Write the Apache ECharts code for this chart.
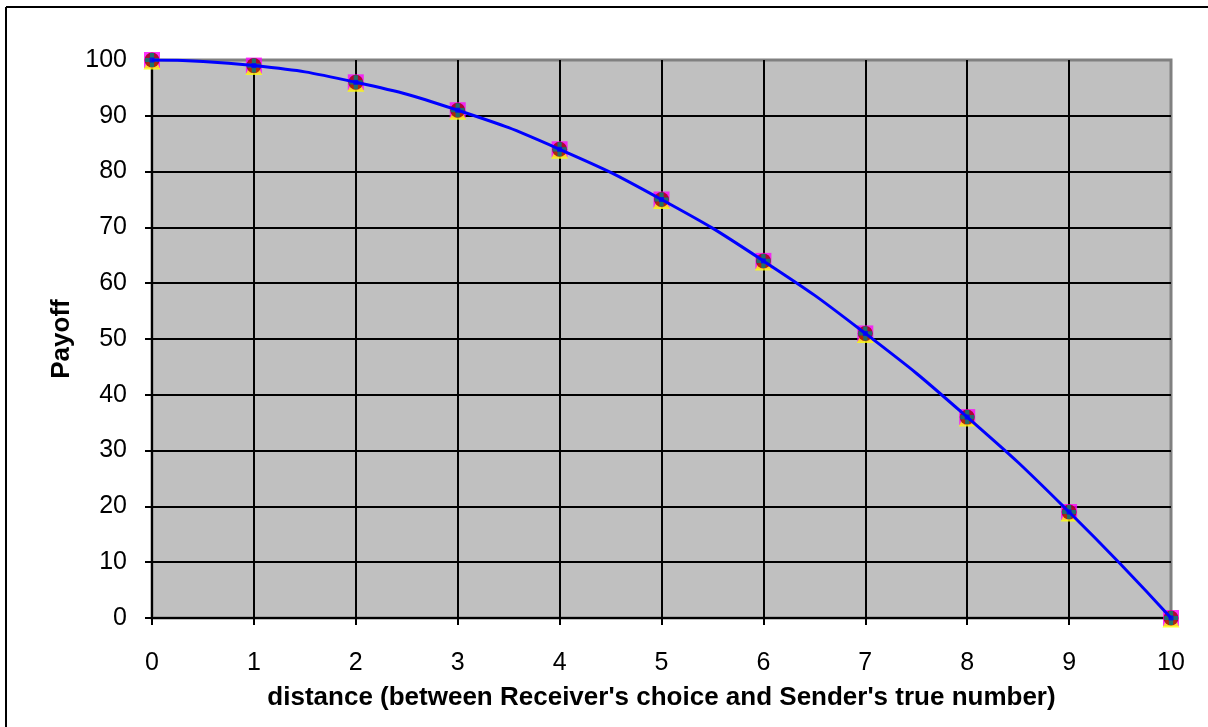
<!DOCTYPE html>
<html><head><meta charset="utf-8">
<script src="https://cdn.jsdelivr.net/npm/echarts@6/dist/echarts.min.js"></script>
<style>html,body{margin:0;padding:0;background:#fff}#c{width:1208px;height:727px}</style>
</head><body><div id="c"></div>
<script>
const distances = [0,1,2,3,4,5,6,7,8,9,10];
const payoff = [100,99,96,91,84,75,64,51,36,19,0];
const xTitle = "distance (between Receiver's choice and Sender's true number)";
const yTitle = "Payoff";

const pts = distances.map((d,i)=>[d, payoff[i]]);
const cross = 'path://M0,3.5L10,3.5L10,6.5L0,6.5Z M3.5,0L6.5,0L6.5,10L3.5,10Z';
const font = 'Arial, "Liberation Sans", sans-serif';

const chart = echarts.init(document.getElementById('c'), null, {renderer:'canvas'});
chart.setOption({
  animation:false,
  backgroundColor:'#fff',
  grid:{left:152,right:37,top:60,bottom:109,show:true,backgroundColor:'#c0c0c0',borderColor:'#808080',borderWidth:3},
  xAxis:{type:'value',min:0,max:10,interval:1,
    name:xTitle,nameLocation:'middle',nameGap:67,
    nameTextStyle:{fontFamily:font,fontSize:26,fontWeight:'bold',color:'#000'},
    axisLine:{show:true,onZero:false,lineStyle:{color:'#000',width:2}},
    axisTick:{show:true,length:7,lineStyle:{color:'#000',width:2}},
    axisLabel:{fontFamily:font,fontSize:25,color:'#000',margin:33},
    splitLine:{show:true,showMaxLine:false,lineStyle:{color:'#000',width:2}}},
  yAxis:{type:'value',min:0,max:100,interval:10,
    name:yTitle,nameLocation:'middle',nameGap:77,
    nameTextStyle:{fontFamily:font,fontSize:26,fontWeight:'bold',color:'#000'},
    axisLine:{show:true,lineStyle:{color:'#000',width:2}},
    axisTick:{show:true,length:7,lineStyle:{color:'#000',width:2}},
    axisLabel:{fontFamily:font,fontSize:25,color:'#000',margin:25},
    splitLine:{show:true,showMaxLine:false,lineStyle:{color:'#000',width:2}}},
  graphic:[
    {type:'line',shape:{x1:6,y1:7,x2:1208,y2:7},style:{stroke:'#000',lineWidth:2},z:100},
    {type:'line',shape:{x1:6,y1:7,x2:6,y2:727},style:{stroke:'#000',lineWidth:2},z:100}
  ],
  series:[
    {type:'scatter',data:pts,symbol:'rect',symbolSize:16,itemStyle:{color:'#ff00ff'},z:3},
    {type:'scatter',data:pts,symbol:'triangle',symbolSize:17,symbolOffset:[0,1],itemStyle:{color:'#ffff00'},z:4},
    {type:'scatter',data:pts,symbol:'circle',symbolSize:15,itemStyle:{color:'#990000'},z:5},
    {type:'scatter',data:pts,symbol:cross,symbolSize:14,itemStyle:{color:'#008080'},z:6},
    {type:'line',data:pts,smooth:true,showSymbol:false,lineStyle:{color:'#0000ff',width:3},z:7},
    {type:'scatter',data:pts,symbol:'rect',symbolSize:5,itemStyle:{color:'#0000ff'},z:8}
  ]
});
</script></body></html>
